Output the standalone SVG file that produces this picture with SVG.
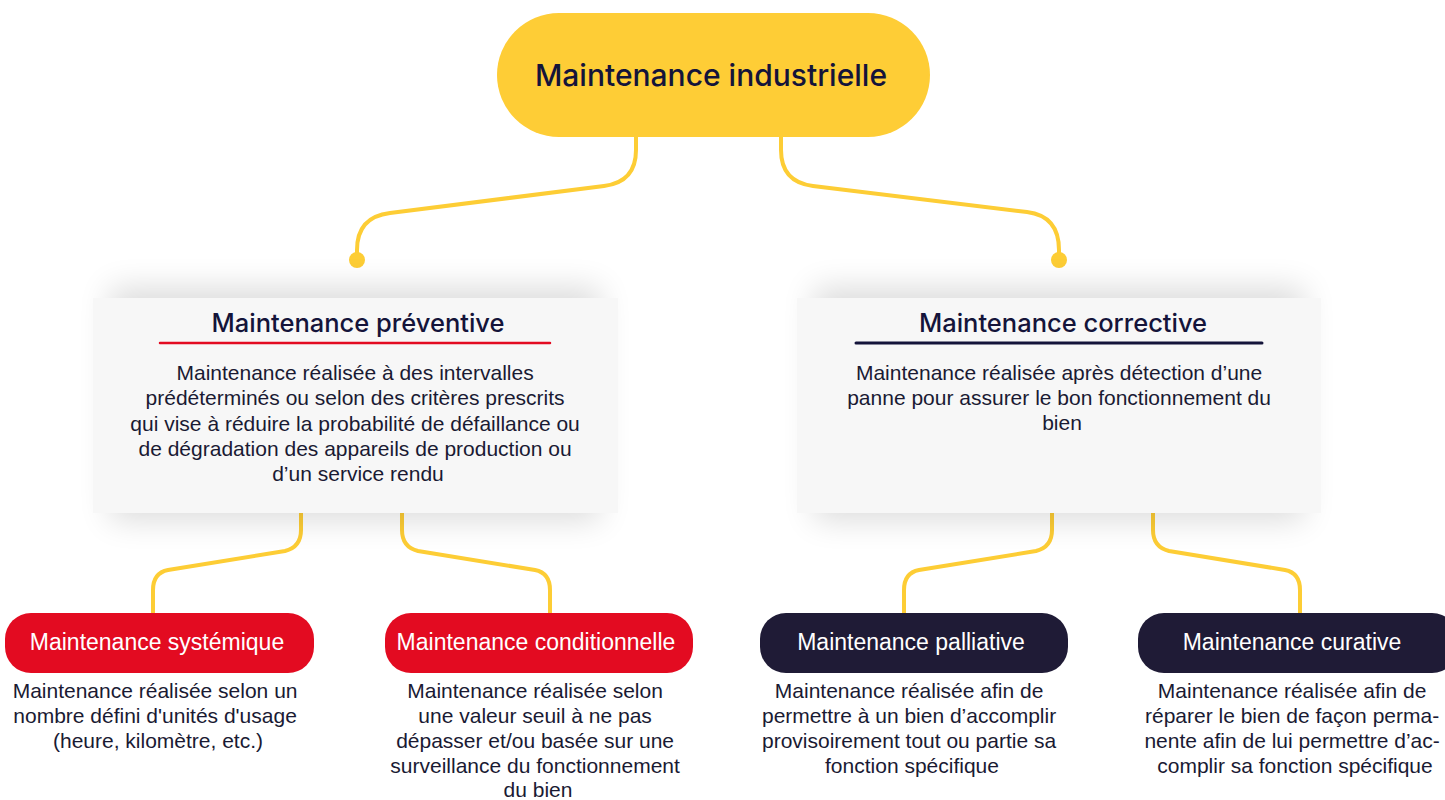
<svg xmlns="http://www.w3.org/2000/svg" width="1445" height="800" viewBox="0 0 1445 800">
  <defs>
    <filter id="soft" x="-20%" y="-40%" width="140%" height="180%">
      <feGaussianBlur stdDeviation="16"/>
    </filter>
    <style>
      .link { fill: none; stroke: #fdcd35; stroke-width: 4; stroke-linecap: round; stroke-linejoin: round; }
      .dot { fill: #fdcd35; }
      .root { fill: #fecd36; }
      .panel { fill: #f7f7f7; }
      .shade { fill: #000; opacity: 0.14; }
      .red { fill: #e30b21; }
      .navy { fill: #1f1b36; }
      .h1 { font-family: Inter, "Liberation Sans", sans-serif; font-weight: 500; font-size: 30px; fill: #14143a; text-anchor: middle; }
      .h2 { font-family: Inter, "Liberation Sans", sans-serif; font-weight: 500; font-size: 25.5px; fill: #14143a; text-anchor: middle; }
      .body { font-family: "Liberation Sans", Arial, sans-serif; font-size: 21px; fill: #1a1a33; text-anchor: middle; }
      .tag { font-family: "Liberation Sans", Arial, sans-serif; font-size: 23px; fill: #ffffff; text-anchor: middle; }
    </style>
  </defs>

  <rect width="1445" height="800" fill="#ffffff"/>

  <!-- connectors -->
  <g id="connectors">
    <path class="link" d="M636,137 V150 Q636,182 604,186 L390,213 Q357,217 357,250 V260"/>
    <path class="link" d="M781,137 V150 Q781,182 813,186 L1027,212 Q1059,216 1059,250 V260"/>
    <circle class="dot" cx="357" cy="260" r="8"/>
    <circle class="dot" cx="1059" cy="260" r="8"/>

    <path class="link" d="M301,513 V530 Q301,547 285,551 L168,570 Q153,573 153,590 V613"/>
    <path class="link" d="M402,513 V530 Q402,547 418,551 L535,570 Q550,573 550,590 V613"/>
    <path class="link" d="M1052,513 V530 Q1052,547 1036,551 L919,570 Q904,573 904,590 V613"/>
    <path class="link" d="M1153,513 V530 Q1153,547 1169,551 L1285,570 Q1300,573 1300,590 V613"/>
  </g>

  <!-- root -->
  <g id="node-root">
    <rect class="root" x="497" y="13" width="433" height="124" rx="62"/>
    <text class="h1" x="711" y="86">Maintenance industrielle</text>
  </g>

  <!-- preventive -->
  <g id="node-preventive">
    <rect class="shade" x="110" y="288" width="490" height="232" filter="url(#soft)"/>
    <rect class="panel" x="93" y="298" width="525" height="215"/>
    <text class="h2" x="358" y="332">Maintenance préventive</text>
    <line x1="160" y1="343" x2="550" y2="343" stroke="#e30b21" stroke-width="2.5" stroke-linecap="round"/>
    <text class="body">
      <tspan x="358" y="380">Maintenance réalisée à des intervalles</tspan>
      <tspan x="358" y="405">prédéterminés ou selon des critères prescrits</tspan>
      <tspan x="358" y="431">qui vise à réduire la probabilité de défaillance ou</tspan>
      <tspan x="358" y="456">de dégradation des appareils de production ou</tspan>
      <tspan x="358" y="481">d’un service rendu</tspan>
    </text>
  </g>

  <!-- corrective -->
  <g id="node-corrective">
    <rect class="shade" x="814" y="288" width="490" height="232" filter="url(#soft)"/>
    <rect class="panel" x="797" y="298" width="524" height="215"/>
    <text class="h2" x="1063" y="332">Maintenance corrective</text>
    <line x1="856" y1="343" x2="1262" y2="343" stroke="#14143a" stroke-width="3" stroke-linecap="round"/>
    <text class="body">
      <tspan x="1062" y="380">Maintenance réalisée après détection d’une</tspan>
      <tspan x="1062" y="405">panne pour assurer le bon fonctionnement du</tspan>
      <tspan x="1062" y="430">bien</tspan>
    </text>
  </g>

  <!-- systemic -->
  <g id="node-systemique">
    <rect class="red" x="5" y="613" width="309" height="60" rx="26"/>
    <text class="tag" x="157" y="650">Maintenance systémique</text>
    <text class="body">
      <tspan x="158" y="698">Maintenance réalisée selon un</tspan>
      <tspan x="158" y="723">nombre défini d'unités d'usage</tspan>
      <tspan x="158" y="748">(heure, kilomètre, etc.)</tspan>
    </text>
  </g>

  <!-- conditional -->
  <g id="node-conditionnelle">
    <rect class="red" x="385" y="613" width="308" height="60" rx="26"/>
    <text class="tag" x="536" y="650">Maintenance conditionnelle</text>
    <text class="body">
      <tspan x="538" y="698">Maintenance réalisée selon</tspan>
      <tspan x="538" y="723">une valeur seuil à ne pas</tspan>
      <tspan x="538" y="748">dépasser et/ou basée sur une</tspan>
      <tspan x="538" y="773">surveillance du fonctionnement</tspan>
      <tspan x="538" y="797">du bien</tspan>
    </text>
  </g>

  <!-- palliative -->
  <g id="node-palliative">
    <rect class="navy" x="760" y="613" width="308" height="60" rx="26"/>
    <text class="tag" x="911" y="650">Maintenance palliative</text>
    <text class="body">
      <tspan x="912" y="698">Maintenance réalisée afin de</tspan>
      <tspan x="912" y="723">permettre à un bien d’accomplir</tspan>
      <tspan x="912" y="748">provisoirement tout ou partie sa</tspan>
      <tspan x="912" y="773">fonction spécifique</tspan>
    </text>
  </g>

  <!-- curative -->
  <g id="node-curative">
    <rect class="navy" x="1138" y="613" width="320" height="60" rx="26"/>
    <text class="tag" x="1292" y="650">Maintenance curative</text>
    <text class="body">
      <tspan x="1295" y="698">Maintenance réalisée afin de</tspan>
      <tspan x="1295" y="723">réparer le bien de façon perma-</tspan>
      <tspan x="1295" y="748">nente afin de lui permettre d’ac-</tspan>
      <tspan x="1295" y="773">complir sa fonction spécifique</tspan>
    </text>
  </g>
</svg>
